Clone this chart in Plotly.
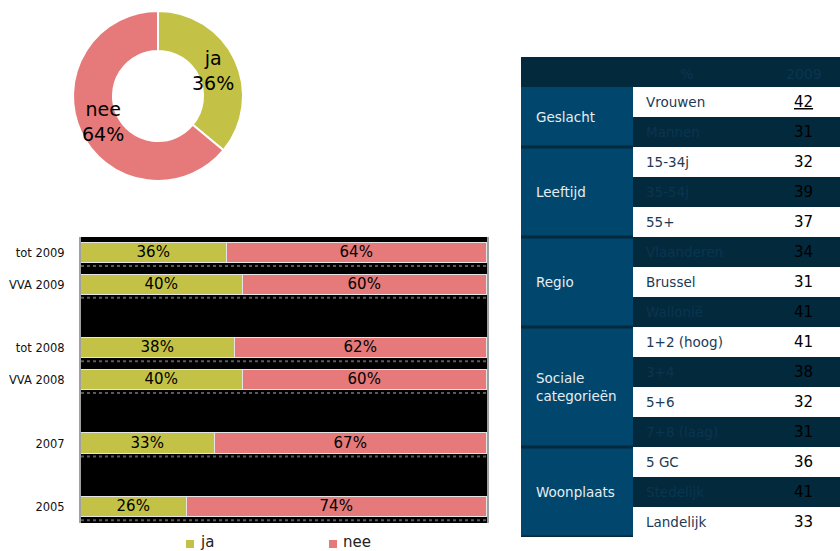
import math
import plotly.graph_objects as go

# ---- donut: overall share 2009 ----
pie_labels = ["ja", "nee"]
pie_values = [36, 64]

# ---- stacked bars per survey wave ----
bar_categories = ["tot 2009", "VVA 2009", "tot 2008", "VVA 2008", "2007", "2005"]
bar_slots = [0, 1, 3, 4, 6, 8]          # vertical slot of each bar (gaps between years)
ja_values = [36, 40, 38, 40, 33, 26]
nee_values = [64, 60, 62, 60, 67, 74]
legend_names = ["ja", "nee"]

# ---- profile table (% ja, 2009) ----
table_header = ["%", "2009"]
groups = ["Geslacht", "Leeftijd", "Regio", "Sociale<br>categorieën", "Woonplaats"]
group_rows = [
    ["Vrouwen", "Mannen"],
    ["15-34j", "35-54j", "55+"],
    ["Vlaanderen", "Brussel", "Wallonië"],
    ["1+2 (hoog)", "3+4", "5+6", "7+8 (laag)"],
    ["5 GC", "Stedelijk", "Landelijk"],
]
group_values = [
    [42, 31],
    [32, 39, 37],
    [34, 31, 41],
    [41, 38, 32, 31],
    [36, 41, 33],
]

GREEN = "#c3c246"
RED = "#e67a7a"
NAVY_DARK = "#03293d"
NAVY_MID = "#01476d"
FONT = "DejaVu Sans"
W, H = 840, 551

fig = go.Figure()

# donut geometry (pixels)
PCX, PCY, PR = 158, 96, 85
HOLE = 0.53
fig.add_trace(go.Pie(
    labels=pie_labels, values=pie_values, hole=HOLE, sort=False,
    direction="clockwise", rotation=0,
    marker=dict(colors=[GREEN, RED], line=dict(color="white", width=2)),
    textinfo="none",
    domain=dict(x=[(PCX - PR) / W, (PCX + PR) / W], y=[1 - (PCY + PR) / H, 1 - (PCY - PR) / H]),
    showlegend=False, hoverinfo="label+percent",
))

annotations = []
# slice labels placed around the middle of each ring segment
total = sum(pie_values)
cum = 0
r_mid = PR * (1 + HOLE) / 2 * 0.93
for lab, v in zip(pie_labels, pie_values):
    ang = 2 * math.pi * (cum + v / 2) / total
    cum += v
    px = PCX + r_mid * math.sin(ang)
    py = PCY - r_mid * math.cos(ang)
    annotations.append(dict(xref="paper", yref="paper", x=px / W, y=1 - py / H,
                            xanchor="center", yanchor="middle",
                            text=f"{lab}<br>{round(100 * v / total)}%", showarrow=False,
                            font=dict(family=FONT, size=19, color="black")))

for name, vals, col in [("ja", ja_values, GREEN), ("nee", nee_values, RED)]:
    fig.add_trace(go.Bar(
        name=name, y=bar_slots, x=vals, orientation="h", width=0.64,
        marker=dict(color=col, line=dict(color="#e4e4e4", width=1.5)),
        text=[f"{v}%" for v in vals], textposition="inside", insidetextanchor="middle",
        constraintext="none",
        textfont=dict(family=FONT, size=15, color="black"),
        xaxis="x", yaxis="y", showlegend=False,
    ))

# dotted strip under each bar
shapes = []
for s in bar_slots:
    shapes.append(dict(type="line", xref="x", yref="y", x0=0, x1=100, y0=s + 0.41, y1=s + 0.41,
                       line=dict(color="#5a5a5a", width=2, dash="dot"), layer="above"))

# legend below the bars: small square swatch + label
for (lx, name, col) in zip([186, 329], legend_names, [GREEN, RED]):
    shapes.append(dict(type="rect", xref="paper", yref="paper",
                       x0=lx / W, x1=(lx + 8) / W, y0=1 - 548 / H, y1=1 - 540 / H,
                       fillcolor=col, line=dict(width=0)))
    annotations.append(dict(xref="paper", yref="paper", x=(lx + 12) / W, y=1 - 542 / H,
                            xanchor="left", yanchor="middle", text=name, showarrow=False,
                            font=dict(family=FONT, size=15, color="#222222")))

# ---- table drawn on its own axis pair ----
row_labels = [r for g in group_rows for r in g]
row_values = [v for g in group_values for v in g]
n_rows = len(row_labels)
XL, XV = 0.385, 0.887
x_split = 112 / 319

shapes.append(dict(type="rect", xref="x3", yref="y3", x0=0, x1=1, y0=-1, y1=0,
                   fillcolor=NAVY_DARK, line=dict(width=0), layer="below"))
for i in range(n_rows):
    shapes.append(dict(type="rect", xref="x3", yref="y3", x0=x_split, x1=1, y0=i, y1=i + 1,
                       fillcolor="white" if i % 2 == 0 else NAVY_DARK,
                       line=dict(width=0), layer="below"))
start = 0
for g, rows in zip(groups, group_rows):
    end = start + len(rows)
    shapes.append(dict(type="rect", xref="x3", yref="y3", x0=0, x1=x_split, y0=start, y1=end,
                       fillcolor=NAVY_MID, line=dict(width=0), layer="below"))
    shapes.append(dict(type="line", xref="x3", yref="y3", x0=0, x1=x_split, y0=end, y1=end,
                       line=dict(color=NAVY_DARK, width=3)))
    annotations.append(dict(xref="x3", yref="y3", x=0.04, y=(start + end) / 2, text=g,
                            showarrow=False, xanchor="left", align="left",
                            font=dict(family=FONT, size=13.5, color="#e6edf2")))
    start = end

for i, (lab, val) in enumerate(zip(row_labels, row_values)):
    dark = i % 2 == 1
    annotations.append(dict(xref="x3", yref="y3", x=XL, y=i + 0.5, text=lab, showarrow=False,
                            xanchor="left", font=dict(family=FONT, size=13.5,
                                                      color="#0a3550" if dark else "#1b3a57")))
    txt = f"<u>{val}</u>" if i == 0 else str(val)
    annotations.append(dict(xref="x3", yref="y3", x=XV, y=i + 0.5, text=txt, showarrow=False,
                            xanchor="center", font=dict(family=FONT, size=15, color="black")))
for hx, ht in zip([0.52, XV], table_header):
    annotations.append(dict(xref="x3", yref="y3", x=hx, y=-0.45, text=ht, showarrow=False,
                            font=dict(family=FONT, size=14, color="#0a3550")))

fig.update_layout(
    width=W, height=H, margin=dict(l=0, r=0, t=0, b=0, autoexpand=False),
    paper_bgcolor="white", plot_bgcolor="black",
    barmode="stack", bargap=0, showlegend=False,
    xaxis=dict(domain=[81 / W, 487 / W], range=[0, 100], showticklabels=False,
               showgrid=False, zeroline=False, fixedrange=True),
    yaxis=dict(domain=[1 - 523 / H, 1 - 237 / H], range=[8.5, -0.5],
               tickmode="array", tickvals=bar_slots, ticktext=bar_categories,
               tickfont=dict(family=FONT, size=11.5, color="#111111"), ticklabelstandoff=12,
               showgrid=False, zeroline=False, showline=True, linecolor="#a0a0a0",
               linewidth=2, mirror=True),
    xaxis3=dict(domain=[521 / W, 1], range=[0, 1], visible=False, anchor="y3"),
    yaxis3=dict(domain=[1 - 537 / H, 1 - 57 / H], range=[n_rows, -1], visible=False,
                anchor="x3"),
    shapes=shapes, annotations=annotations,
)

fig.write_html("out.html")
